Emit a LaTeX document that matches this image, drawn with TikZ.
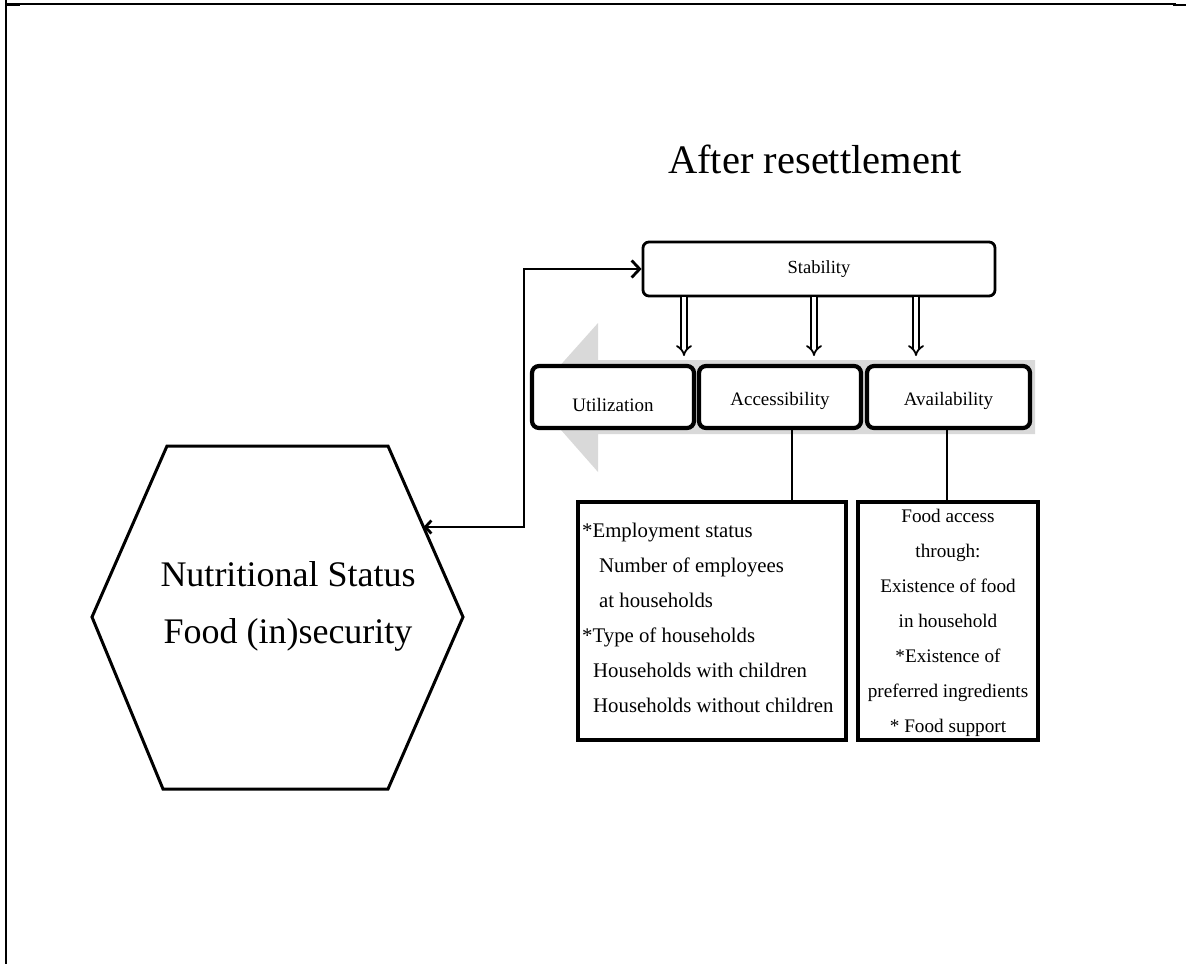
\documentclass[tikz,border=0pt]{standalone}
\usepackage{fontspec}
\setmainfont{Liberation Serif}
\usetikzlibrary{arrows.meta}
\begin{document}
\begin{tikzpicture}[x=1pt,y=-1pt,
  frameline/.style={line width=1.6pt},
  frametick/.style={line width=2.8pt},
  titlefont/.style={font=\fontsize{40.5}{48}\selectfont},
  stabbox/.style={draw, fill=white, line width=2.8pt, rounded corners=6pt,
    minimum width=352pt, minimum height=54pt, inner sep=0pt,
    font=\fontsize{18.5}{22}\selectfont},
  pillar/.style={draw, fill=white, line width=4.2pt, rounded corners=7pt,
    minimum height=62pt, inner sep=0pt, text depth=0pt,
    font=\fontsize{19}{22}\selectfont},
  infobox/.style={draw, line width=4pt, minimum height=238pt, inner sep=0pt},
  infotext/.style={inner sep=0pt, font=\fontsize{20.8}{35}\selectfont},
  conn/.style={line width=2.8pt},
  feedback/.style={line width=2.8pt, {Straight Barb[length=6pt,width=13pt]}-{Straight Barb[length=8pt,width=17pt]}},
  dblarrow/.style={double, double distance=3.5pt, line width=1.8pt, -Implies},
  hexline/.style={line width=3pt, line join=miter},
  bigarrow/.style={fill=black!15, draw=none}
]
\useasboundingbox (0,0) rectangle (1186,964);

% frame
\draw[frameline] (6,0) -- (6,964);
\draw[frameline] (6,4) -- (1176,4);
\draw[frametick] (6,5) -- (20,5);
\draw[frametick] (1173,5) -- (1186,5);

% title
\node[titlefont, anchor=base west, inner sep=0pt] (title) at (668,173) {After resettlement};

% big grey arrow behind the three pillars
\path[bigarrow] (1035,360) -- (598,360) -- (598,323) -- (532,397) -- (598,472)
  -- (598,434) -- (1035,434) -- cycle;

% stability
\node[stabbox] (stab) at (819,269) {Stability};

% pillars
\node[pillar, minimum width=162pt, text height=29pt] (util) at (613,397) {Utilization};
\node[pillar, minimum width=162pt, text height=17pt] (access) at (780,397) {Accessibility};
\node[pillar, minimum width=163pt, text height=17pt] (avail) at (948.5,397) {Availability};

% double arrows from stability
\coordinate (d1) at (684,356);
\coordinate (d2) at (814,356);
\coordinate (d3) at (916,356);
\draw[dblarrow] (stab.south -| d1) -- (d1);
\draw[dblarrow] (stab.south -| d2) -- (d2);
\draw[dblarrow] (stab.south -| d3) -- (d3);

% info boxes
\node[infobox, minimum width=268pt] (accbox) at (712,621) {};
\node[infobox, minimum width=180pt] (avbox) at (948,621) {};

\node[infotext, anchor=north west, align=left] (acctext) at (582,512.5)
  {\strut*Employment status\\
   \hspace{17pt}Number of employees\\
   \hspace{17pt}at households\\
   *Type of households\\
   \hspace{11pt}Households with children\\
   \hspace{11pt}Households without children};

\node[infotext, anchor=north, align=center, font=\fontsize{19.2}{35}\selectfont] (avtext) at (948,497.5)
  {\strut Food access\\
   through:\\
   Existence of food\\
   in household\\
   *Existence of\\
   preferred ingredients\\
   * Food support};

\coordinate (j1) at (792,460);
\coordinate (j2) at (947,460);
\draw[conn] (access.south -| j1) -- (accbox.north -| j1);
\draw[conn] (avail.south -| j2) -- (avbox.north -| j2);

% hexagon
\coordinate (h1) at (167,446);
\coordinate (h2) at (388,446);
\coordinate (h3) at (463,617);
\coordinate (h4) at (388,789);
\coordinate (h5) at (163,789);
\coordinate (h6) at (92,617);
\draw[hexline] (h1) -- (h2) -- (h3) -- (h4) -- (h5) -- (h6) -- cycle;
\node[inner sep=0pt, anchor=north, align=center, font=\fontsize{36}{57}\selectfont] (nut) at (288,546.1)
  {\strut Nutritional Status\\ Food (in)security};

% feedback connector
\coordinate (hexin) at (423.5,527);
\coordinate (bendlow) at (524,527);
\coordinate (bendup) at (524,269);
\draw[feedback] (hexin) -- (bendlow) -- (bendup) -- (stab.west);
\end{tikzpicture}
\end{document}
